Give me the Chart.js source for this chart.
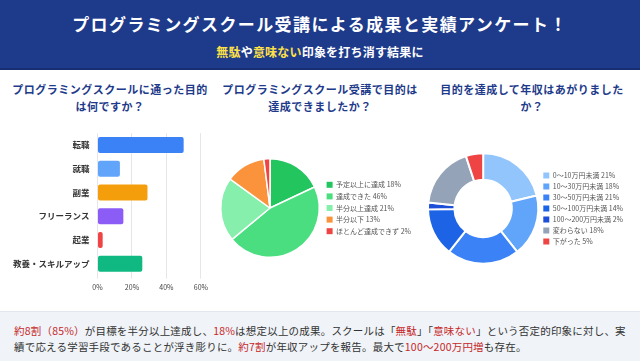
<!DOCTYPE html>
<html lang="ja">
<head>
<meta charset="utf-8">
<script src="https://cdn.jsdelivr.net/npm/chart.js@4"></script>
<style>
  body { margin:0; width:640px; height:361px; overflow:hidden; background:#fff;
         font-family:"Noto Sans CJK JP","Noto Sans",sans-serif; position:relative; }
  #header { position:absolute; left:0; top:0; width:640px; height:68px; background:#1e3a8a;
            border-bottom:2px solid #172f72; text-align:center; color:#fff; }
  #header h1 { margin:0; position:absolute; left:0; right:0; top:12px; font-size:17px; line-height:24px;
               font-weight:bold; letter-spacing:1.4px; }
  #header p { margin:0; position:absolute; left:0; right:0; top:43px; font-size:12px; line-height:18px;
              font-weight:bold; letter-spacing:0.2px; }
  #header .hl { color:#fde047; }
  .ptitle { position:absolute; top:81px; width:214px; text-align:center; color:#1e3a8a;
            font-size:11px; line-height:17px; font-weight:bold; letter-spacing:0.5px; white-space:nowrap; }
  .box { position:absolute; }
  #footer { position:absolute; left:0; top:311px; width:640px; height:50px; background:#f0f3f8;
            border-top:1px solid #e2e7ef; box-sizing:border-box; padding:11px 12px 0 14px;
            font-size:10.5px; line-height:16px; color:#333; letter-spacing:0.2px; }
  #footer .r { color:#c62828; }
</style>
</head>
<body>
<div id="header">
  <h1>プログラミングスクール受講による成果と実績アンケート！</h1>
  <p><span class="hl">無駄</span>や<span class="hl">意味ない</span>印象を打ち消す結果に</p>
</div>

<div class="ptitle" style="left:3px">プログラミングスクールに通った目的<br>は何ですか？</div>
<div class="ptitle" style="left:213px">プログラミングスクール受講で目的は<br>達成できましたか？</div>
<div class="ptitle" style="left:425px">目的を達成して年収はあがりました<br>か？</div>

<div class="box" style="left:0;top:120px;width:213px;height:180px"><canvas id="purposeChart"></canvas></div>
<div class="box" style="left:215px;top:150px;width:206px;height:116px"><canvas id="achieveChart"></canvas></div>
<div class="box" style="left:427px;top:150px;width:206px;height:117px"><canvas id="incomeChart"></canvas></div>

<div id="footer"><span class="r">約8割（85%）</span>が目標を半分以上達成し、<span class="r">18%</span>は想定以上の成果。スクールは「<span class="r">無駄</span>」「<span class="r">意味ない</span>」という否定的印象に対し、実績で応える学習手段であることが浮き彫りに。<span class="r">約7割</span>が年収アップを報告。最大で<span class="r">100〜200万円増</span>も存在。</div>

<script>
const purposeLabels = ["転職", "就職", "副業", "フリーランス", "起業", "教養・スキルアップ"];
const purposeValues = [50, 13, 29, 15, 3, 26];
const purposeColors = ["#3b82f6", "#60a5fa", "#f59e0b", "#8b5cf6", "#ef4444", "#10b981"];
const purposeTicks = [0, 20, 40, 60];

const achieveLabels = ["予定以上に達成", "達成できた", "半分以上達成", "半分以下", "ほとんど達成できず"];
const achieveValues = [18, 46, 21, 13, 2];
const achieveColors = ["#22c55e", "#4ade80", "#86efac", "#fb923c", "#ef4444"];

const incomeLabels = ["0〜10万円未満", "10〜30万円未満", "30〜50万円未満", "50〜100万円未満", "100〜200万円未満", "変わらない", "下がった"];
const incomeValues = [21, 18, 21, 14, 2, 18, 5];
const incomeColors = ["#93c5fd", "#60a5fa", "#3b82f6", "#1d63e6", "#1d4ed8", "#94a3b8", "#ef4444"];

Chart.defaults.font.family = '"Noto Sans CJK JP", "Noto Sans", sans-serif';
Chart.defaults.animation = false;

new Chart(document.getElementById("purposeChart"), {
  type: "bar",
  data: {
    labels: purposeLabels,
    datasets: [{
      data: purposeValues,
      backgroundColor: purposeColors,
      borderRadius: 2,
      borderSkipped: false,
      categoryPercentage: 0.8,
      barPercentage: 0.84
    }]
  },
  options: {
    indexAxis: "y",
    responsive: true,
    maintainAspectRatio: false,
    layout: { padding: { top: 4, right: 11, bottom: 3, left: 0 } },
    plugins: { legend: { display: false }, tooltip: { enabled: false } },
    scales: {
      x: {
        min: 0, max: 60,
        afterBuildTicks: s => { s.ticks = purposeTicks.map(v => ({ value: v })); },
        ticks: { callback: v => v + "%", color: "#444", font: { size: 7 }, padding: 5 },
        grid: { color: "#e6e6ea", tickLength: 3 },
        border: { display: false }
      },
      y: {
        afterFit: s => { s.width = 97.5; },
        ticks: { color: "#333", font: { size: 8.5, weight: "bold" }, padding: 8 },
        grid: { display: false, drawTicks: false },
        border: { display: false }
      }
    }
  }
});

function legendWithValues(values, gap) {
  return {
    position: "right",
    labels: {
      boxWidth: 6, boxHeight: 6, color: "#555", font: { size: 7 }, padding: gap,
      generateLabels: chart => {
        const items = Chart.overrides.pie.plugins.legend.labels.generateLabels(chart);
        items.forEach((it, i) => { it.text = it.text + " " + values[i] + "%"; it.lineWidth = 0; });
        return items;
      }
    }
  };
}

new Chart(document.getElementById("achieveChart"), {
  type: "pie",
  data: {
    labels: achieveLabels,
    datasets: [{ data: achieveValues, backgroundColor: achieveColors, borderColor: "#fff", borderWidth: 1.5 }]
  },
  options: {
    responsive: true,
    maintainAspectRatio: false,
    layout: { padding: { top: 8, bottom: 8, left: 3, right: 0 } },
    plugins: { legend: legendWithValues(achieveValues, 4.6), tooltip: { enabled: false } }
  }
});

new Chart(document.getElementById("incomeChart"), {
  type: "doughnut",
  data: {
    labels: incomeLabels,
    datasets: [{ data: incomeValues, backgroundColor: incomeColors, borderColor: "#fff", borderWidth: 2 }]
  },
  options: {
    responsive: true,
    maintainAspectRatio: false,
    cutout: "52%",
    layout: { padding: { top: 2, bottom: 2, left: 0, right: 0 } },
    plugins: { legend: legendWithValues(incomeValues, 4), tooltip: { enabled: false } }
  }
});
</script>
</body>
</html>
